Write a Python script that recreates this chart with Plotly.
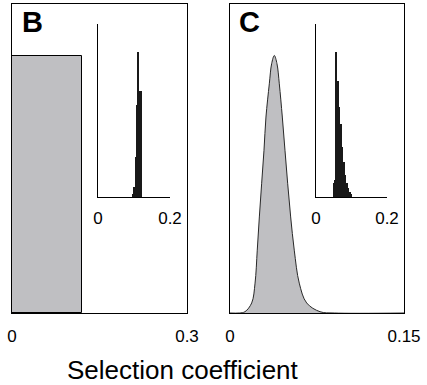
import plotly.graph_objects as go

W, H = 427, 385

# ---------------- data ----------------
# Panel B: uniform prior on selection coefficient
prior_b_lo = 0.0
prior_b_hi = 0.12
prior_b_density = 1.0

# Panel B inset: posterior histogram
inset_b_centers = [0.0980, 0.1017, 0.1054, 0.1091, 0.1128, 0.1165, 0.1202]
inset_b_heights = [0.02, 0.06, 0.23, 0.53, 0.84, 0.61, 0.61]

# Panel C: prior density curve
curve_c_x = [0.0, 0.008, 0.0129, 0.0187, 0.0216, 0.0235, 0.0253, 0.0273, 0.0293,
             0.0310, 0.0339, 0.0359, 0.0382, 0.0405, 0.0425, 0.0451, 0.0474, 0.0497,
             0.0523, 0.0554, 0.0597, 0.0661, 0.0776, 0.09, 0.15]
curve_c_y = [0, 0, 0.005, 0.039, 0.116, 0.244, 0.373, 0.504, 0.632,
             0.761, 0.890, 0.968, 1.0, 0.968, 0.890, 0.761, 0.632, 0.504,
             0.373, 0.244, 0.116, 0.039, 0.005, 0, 0]

# Panel C inset: posterior histogram
inset_c_centers = [0.0500, 0.0542, 0.0584, 0.0626, 0.0668, 0.0710, 0.0752,
                   0.0794, 0.0836, 0.0878, 0.0920, 0.0962, 0.1004]
inset_c_heights = [0.08, 0.10, 0.84, 0.67, 0.52, 0.42, 0.29,
                   0.20, 0.13, 0.08, 0.05, 0.03, 0.015]

main_b_ticks = [0, 0.3]
main_b_ticktext = ["0", "0.3"]
main_c_ticks = [0, 0.15]
main_c_ticktext = ["0", "0.15"]
inset_ticks = [0, 0.2]
inset_ticktext = ["0", "0.2"]
panel_labels = ["B", "C"]
x_title = "Selection coefficient"

# ---------------- style ----------------
FONT = "Liberation Sans, Arial, Helvetica, sans-serif"
GRAY = "rgb(191,191,194)"
BAR = "rgb(25,25,25)"


def px_x(p):
    return p / W


def px_y(p):
    return 1 - p / H


fig = go.Figure()

# Panel B main: uniform prior
fig.add_trace(go.Bar(
    x=[(prior_b_lo + prior_b_hi) / 2], y=[prior_b_density],
    width=[prior_b_hi - prior_b_lo],
    marker=dict(color=GRAY, line=dict(color="black", width=1)),
    xaxis="x", yaxis="y", showlegend=False, hoverinfo="skip"))

# Panel B inset
fig.add_trace(go.Bar(
    x=inset_b_centers, y=inset_b_heights, width=0.0037,
    marker=dict(color=BAR, line=dict(width=0)),
    xaxis="x2", yaxis="y2", showlegend=False, hoverinfo="skip"))

# Panel C main: density curve
fig.add_trace(go.Scatter(
    x=curve_c_x, y=curve_c_y, mode="lines",
    line=dict(color="rgb(40,40,40)", width=1, shape="spline", smoothing=1.0),
    fill="tozeroy", fillcolor=GRAY,
    xaxis="x3", yaxis="y3", showlegend=False, hoverinfo="skip"))

# Panel C inset
fig.add_trace(go.Bar(
    x=inset_c_centers, y=inset_c_heights, width=0.0042,
    marker=dict(color=BAR, line=dict(width=0)),
    xaxis="x4", yaxis="y4", showlegend=False, hoverinfo="skip"))

main_common = dict(showline=True, mirror=True, linecolor="black", linewidth=1,
                   showgrid=False, zeroline=False, ticks="", automargin=False)
inset_common = dict(showline=True, mirror=False, linecolor="black", linewidth=1,
                    showgrid=False, zeroline=False, ticks="", automargin=False)
tickfont = dict(family=FONT, size=17, color="black")

fig.update_layout(
    template="none",
    width=W, height=H, autosize=False,
    margin=dict(l=0, r=0, t=0, b=0, pad=0),
    paper_bgcolor="white", plot_bgcolor="white",
    bargap=0,
    xaxis=dict(domain=[px_x(12), px_x(187)], range=[0, 0.3], anchor="y",
               tickvals=main_b_ticks, ticktext=main_b_ticktext,
               tickfont=tickfont, ticklabelstandoff=8, **main_common),
    yaxis=dict(domain=[px_y(313), px_y(4)], range=[0, 1.2], anchor="x",
               showticklabels=False, **main_common),
    xaxis2=dict(domain=[px_x(98), px_x(170)], range=[0, 0.2], anchor="y2",
                tickvals=inset_ticks, ticktext=inset_ticktext,
                tickfont=tickfont, ticklabelstandoff=6, **inset_common),
    yaxis2=dict(domain=[px_y(197), px_y(24)], range=[0, 1], anchor="x2",
                showticklabels=False, **inset_common),
    xaxis3=dict(domain=[px_x(230), px_x(404)], range=[0, 0.15], anchor="y3",
                tickvals=main_c_ticks, ticktext=main_c_ticktext,
                tickfont=tickfont, ticklabelstandoff=8, **main_common),
    yaxis3=dict(domain=[px_y(313), px_y(4)], range=[0, 1.2], anchor="x3",
                showticklabels=False, **main_common),
    xaxis4=dict(domain=[px_x(316), px_x(387)], range=[0, 0.2], anchor="y4",
                tickvals=inset_ticks, ticktext=inset_ticktext,
                tickfont=tickfont, ticklabelstandoff=6, **inset_common),
    yaxis4=dict(domain=[px_y(197), px_y(24)], range=[0, 1], anchor="x4",
                showticklabels=False, **inset_common),
)

fig.add_annotation(text="<b>%s</b>" % panel_labels[0], xref="paper", yref="paper",
                   x=px_x(20), y=px_y(4), xanchor="left", yanchor="top",
                   showarrow=False, font=dict(family=FONT, size=29, color="black"))
fig.add_annotation(text="<b>%s</b>" % panel_labels[1], xref="paper", yref="paper",
                   x=px_x(237), y=px_y(4), xanchor="left", yanchor="top",
                   showarrow=False, font=dict(family=FONT, size=29, color="black"))
fig.add_annotation(text=x_title, xref="paper", yref="paper",
                   x=px_x(183), y=px_y(370), xanchor="center", yanchor="middle",
                   showarrow=False, font=dict(family=FONT, size=26, color="black"))

fig.write_html("out.html",
               config={"displayModeBar": False, "responsive": False},
               post_script="document.body.style.margin='0';document.body.style.overflow='hidden';")
